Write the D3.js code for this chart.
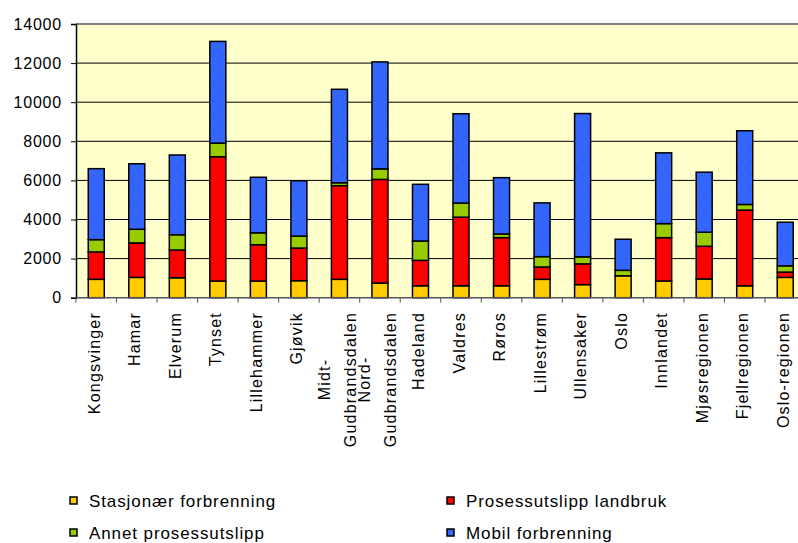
<!DOCTYPE html>
<html>
<head>
<meta charset="utf-8">
<script src="https://cdn.jsdelivr.net/npm/d3@7"></script>
<style>
  html, body { margin: 0; padding: 0; background: #ffffff; }
  svg { display: block; }
  text { font-family: "Liberation Sans", Arial, sans-serif; fill: #000; }
</style>
</head>
<body>
<svg id="chart" width="798" height="543"></svg>
<script>
// ---- data ----
const categories = ["Kongsvinger","Hamar","Elverum","Tynset","Lillehammer","Gjøvik",
  "Midt-Gudbrandsdalen","Nord-Gudbrandsdalen","Hadeland","Valdres","Røros","Lillestrøm",
  "Ullensaker","Oslo","Innlandet","Mjøsregionen","Fjellregionen","Oslo-regionen"];
const tickLabels = ["Kongsvinger","Hamar","Elverum","Tynset","Lillehammer","Gjøvik",
  "Midt-\nGudbrandsdalen","Nord-\nGudbrandsdalen","Hadeland","Valdres","Røros","Lillestrøm",
  "Ullensaker","Oslo","Innlandet","Mjøsregionen","Fjellregionen","Oslo-regionen"];
const seriesNames = ["Stasjonær forbrenning","Prosessutslipp landbruk","Annet prosessutslipp","Mobil forbrenning"];
const stasjonaer = [940,1040,1020,850,850,870,940,750,610,610,610,940,670,1120,850,960,610,1040];
const landbruk   = [1400,1760,1420,6360,1860,1670,4790,5300,1300,3510,2460,630,1060,0,2220,1670,3870,270];
const annet      = [630,700,780,700,610,610,150,540,990,720,190,530,360,280,720,720,290,320];
const mobil      = [3630,3350,4080,5200,2840,2830,4780,5470,2900,4570,2880,2750,7330,1590,3620,3070,3770,2230];
const yTicks = [0,2000,4000,6000,8000,10000,12000,14000];

// ---- layout ----
const svg = d3.select("#chart");
const pLeft = 76, pRight = 805.5, pTop = 24, pBottom = 297.7;
const colors = ["#FFCC00","#FF0000","#99CC00","#3366FF"];

const rows = categories.map((c, i) => ({cat: c, s0: stasjonaer[i], s1: landbruk[i], s2: annet[i], s3: mobil[i]}));
const keys = ["s0","s1","s2","s3"];
const stacked = d3.stack().keys(keys)(rows);

const x = d3.scaleBand().domain(categories).range([pLeft, pRight]).paddingInner(0.605).paddingOuter(0.3025);
const y = d3.scaleLinear().domain([0, 14000]).range([pBottom, pTop]);

// pattern for blue series
const defs = svg.append("defs");
const pat = defs.append("pattern").attr("id", "dots").attr("patternUnits", "userSpaceOnUse")
  .attr("width", 8).attr("height", 15);
pat.append("rect").attr("width", 8).attr("height", 15).attr("fill", colors[3]);
pat.append("circle").attr("cx", 2).attr("cy", 3).attr("r", 0.8).attr("fill", "#4a4aa8");
pat.append("circle").attr("cx", 6).attr("cy", 10.5).attr("r", 0.8).attr("fill", "#4a4aa8");
const fills = [colors[0], colors[1], colors[2], "url(#dots)"];

// plot background
svg.append("rect").attr("x", pLeft).attr("y", pTop).attr("width", pRight - pLeft).attr("height", pBottom - pTop)
  .attr("fill", "#FFFFCC");

// gridlines
svg.append("g").selectAll("line").data(yTicks.filter(t => t > 0 && t < 14000)).join("line")
  .attr("x1", pLeft).attr("x2", pRight).attr("y1", d => y(d)).attr("y2", d => y(d))
  .attr("stroke", "#000").attr("stroke-width", 1);
svg.append("line").attr("x1", pLeft).attr("x2", pRight).attr("y1", y(14000)).attr("y2", y(14000))
  .attr("stroke", "#808080").attr("stroke-width", 2);

// bars
const layer = svg.append("g").selectAll("g").data(stacked).join("g")
  .attr("fill", (d, i) => fills[i]);
layer.selectAll("rect").data(d => d.map(v => ({v, cat: v.data.cat}))).join("rect")
  .attr("x", d => x(d.cat)).attr("width", x.bandwidth())
  .attr("y", d => y(d.v[1])).attr("height", d => Math.max(0, y(d.v[0]) - y(d.v[1])))
  .attr("stroke", "#000").attr("stroke-width", 1.5);

// y axis
const yAxis = svg.append("g").attr("transform", `translate(${pLeft},0)`)
  .call(d3.axisLeft(y).tickValues(yTicks).tickSize(5).tickPadding(9).tickFormat(d3.format("d")));
yAxis.select(".domain").attr("stroke", "#000").attr("stroke-width", 1.5);
yAxis.selectAll(".tick line").attr("stroke", "#000");
yAxis.selectAll(".tick text").attr("font-size", 16).attr("font-family", "Liberation Sans, Arial, sans-serif")
  .style("letter-spacing", "0.8px").attr("fill", "#000");

// x axis
const xAxis = svg.append("g").attr("transform", `translate(0,${pBottom})`);
xAxis.append("line").attr("x1", pLeft).attr("x2", pRight).attr("y1", 0).attr("y2", 0)
  .attr("stroke", "#555").attr("stroke-width", 1.5);
const step = x.step();
xAxis.selectAll("line.t").data(d3.range(categories.length + 1)).join("line").attr("class", "t")
  .attr("x1", i => pLeft + i * step).attr("x2", i => pLeft + i * step).attr("y1", 0).attr("y2", 5)
  .attr("stroke", "#555").attr("stroke-width", 1);

// x labels (rotated)
const labelTop = 312;
tickLabels.forEach((lab, i) => {
  const cx = x(categories[i]) + x.bandwidth() / 2;
  const lines = lab.split("\n");
  const g = svg.append("g");
  const nodes = lines.map((ln, j) => {
    const off = 3.5 + (j - (lines.length - 1) / 2) * 26;
    return g.append("text").text(ln).attr("font-size", 16).style("letter-spacing", "1.2px")
      .attr("text-anchor", "middle").attr("data-off", off);
  });
  const lens = nodes.map(n => n.node().getComputedTextLength());
  const maxLen = d3.max(lens);
  nodes.forEach(n => {
    const off = +n.attr("data-off");
    n.attr("transform", `translate(${cx + off},${labelTop + maxLen / 2}) rotate(-90)`);
  });
});

// legend
const legendItems = [
  {name: seriesNames[0], fill: colors[0], x: 70, y: 497},
  {name: seriesNames[1], fill: colors[1], x: 447, y: 497},
  {name: seriesNames[2], fill: colors[2], x: 70, y: 529},
  {name: seriesNames[3], fill: colors[3], x: 447, y: 529}
];
const lg = svg.append("g").selectAll("g").data(legendItems).join("g");
lg.append("rect").attr("x", d => d.x).attr("y", d => d.y).attr("width", 7).attr("height", 7)
  .attr("fill", d => d.fill).attr("stroke", "#000").attr("stroke-width", 1.5);
lg.append("text").attr("x", d => d.x + 19).attr("y", d => d.y + 10).text(d => d.name)
  .attr("font-size", 17).style("letter-spacing", "0.9px");
</script>
</body>
</html>
